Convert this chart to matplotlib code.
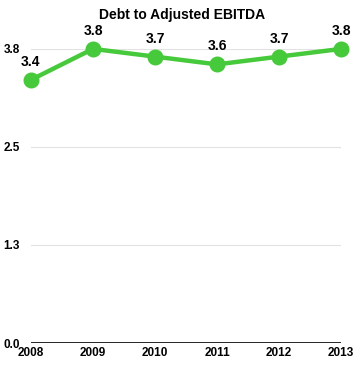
import numpy as np
import matplotlib.pyplot as plt

plt.rcParams['font.family'] = ['Liberation Sans', 'DejaVu Sans']

years = [2008, 2009, 2010, 2011, 2012, 2013]
debt_ratio = [3.4, 3.8, 3.7, 3.6, 3.7, 3.8]
ytick_vals = [0.0, 3.8 / 3, 2 * 3.8 / 3, 3.8]
ytick_labels = ['0.0', '1.3', '2.5', '3.8']

green = '#46c93a'

fig = plt.figure(figsize=(3.64, 3.85), dpi=100)
ax = fig.add_axes([0.085, 0.109, 0.852, 0.764])

ax.plot(years, debt_ratio, color=green, lw=3.2, marker='o', ms=10.5,
        clip_on=False, zorder=3)

for x, y in zip(years, debt_ratio):
    ax.annotate(f'{y:.1f}', (x, y), xytext=(0, 8), textcoords='offset points',
                ha='center', va='bottom', fontsize=10, fontweight='bold')

ax.set_xlim(2008, 2013)
ax.set_ylim(0, 3.8)
ax.set_yticks(ytick_vals)
ax.set_yticklabels(ytick_labels)
ax.set_xticks(years)
ax.set_xticklabels([str(y) for y in years])

for v in ytick_vals[1:]:
    ax.axhline(v, color='#e2e2e2', lw=0.8, zorder=1)
ax.axhline(0, color='black', lw=1.2, zorder=2)

for s in ax.spines.values():
    s.set_visible(False)
ax.tick_params(length=0, labelsize=8.5)
ax.tick_params(axis='y', pad=8)
ax.tick_params(axis='x', pad=3)
for lab in ax.get_xticklabels() + ax.get_yticklabels():
    lab.set_fontweight('bold')

fig.suptitle('Debt to Adjusted EBITDA', fontsize=10, fontweight='bold', y=0.98)

fig.savefig('out.png', dpi=100)
